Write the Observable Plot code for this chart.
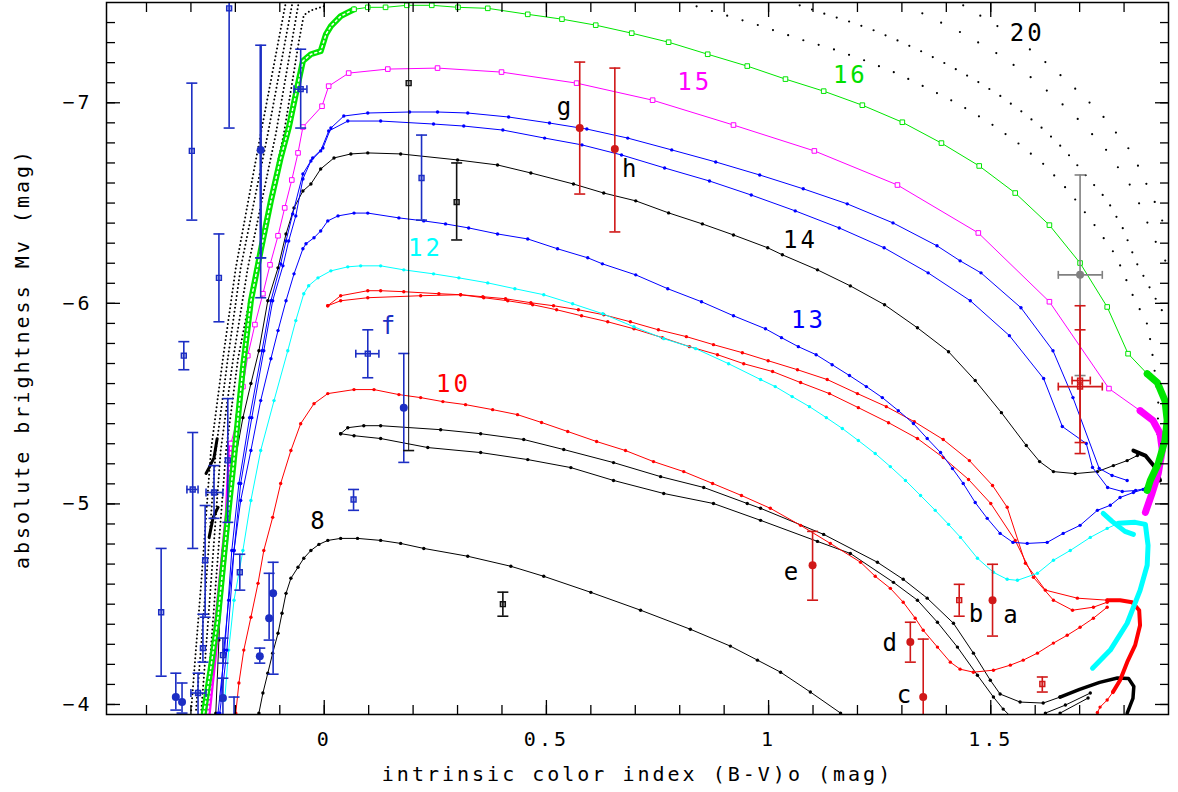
<!DOCTYPE html>
<html><head><meta charset="utf-8">
<script src="https://cdn.jsdelivr.net/npm/d3@7"></script>
<script src="https://cdn.jsdelivr.net/npm/@observablehq/plot@0.6"></script>
<style>
html,body{margin:0;padding:0;background:#fff;}
#chart svg text{letter-spacing:3px;}
#chart g[aria-label="tracklabels"] text{letter-spacing:0;}
</style></head><body><div id="chart"></div>
<script>
// ---------- tick values / labels ----------
const xMajor = [0, 0.5, 1, 1.5];
const xTickLabels = ["0", "0.5", "1", "1.5"];
const yMajor = [-7, -6, -5, -4];
const yTickLabels = ["\u22127", "\u22126", "\u22125", "\u22124"];
const xTitle = "intrinsic color index (B-V)o (mag)";
const yTitle = "absolute brightness Mv (mag)";

// ---------- evolutionary tracks [B-V, Mv] ----------
const track8 = [[-0.147,-3.957],[-0.138,-4.057],[-0.127,-4.156],[-0.116,-4.256],[-0.104,-4.355],[-0.095,-4.455],[-0.086,-4.554],[-0.075,-4.629],[-0.059,-4.684],[-0.046,-4.729],[-0.030,-4.768],[-0.012,-4.798],[0.008,-4.818],[0.037,-4.828],[0.075,-4.828],[0.127,-4.818],[0.172,-4.803],[0.224,-4.778],[0.323,-4.739],[0.420,-4.689],[0.494,-4.639],[0.600,-4.559],[0.712,-4.470],[0.824,-4.375],[0.914,-4.291],[0.975,-4.221],[1.027,-4.161],[1.094,-4.062],[1.162,-3.957]];
const track9a = [[0.037,-5.350],[0.053,-5.380],[0.089,-5.390],[0.127,-5.390],[0.262,-5.370],[0.352,-5.350],[0.449,-5.321],[0.539,-5.271],[0.651,-5.206],[0.757,-5.136],[0.854,-5.082],[0.952,-5.002],[0.982,-4.978],[1.124,-4.848],[1.245,-4.709],[1.303,-4.624],[1.357,-4.530],[1.416,-4.405],[1.461,-4.256],[1.499,-4.121],[1.521,-4.052],[1.566,-4.012],[1.618,-4.007],[1.656,-4.037]];
const track9b = [[0.037,-5.350],[0.067,-5.340],[0.127,-5.326],[0.233,-5.281],[0.352,-5.256],[0.458,-5.221],[0.555,-5.181],[0.651,-5.117],[0.764,-5.052],[0.876,-5.002],[0.982,-4.918],[1.110,-4.813],[1.184,-4.753],[1.281,-4.609],[1.335,-4.520],[1.380,-4.410],[1.425,-4.286],[1.470,-4.146],[1.506,-4.037],[1.528,-3.977],[1.544,-3.942]];
const track9Loop = [[1.656,-4.037],[1.700,-4.075],[1.745,-4.110],[1.785,-4.132],[1.810,-4.130],[1.822,-4.090],[1.820,-4.030],[1.807,-3.957]];
const track9ArrowA = [[1.623,-3.957],[1.668,-3.997],[1.724,-4.057]];
const track9ArrowB = [[1.656,-3.957],[1.719,-4.032]];
const track10 = [[-0.199,-3.957],[-0.192,-4.107],[-0.181,-4.271],[-0.165,-4.435],[-0.149,-4.604],[-0.136,-4.768],[-0.116,-4.933],[-0.098,-5.102],[-0.075,-5.266],[-0.053,-5.400],[-0.023,-5.500],[0.008,-5.550],[0.067,-5.570],[0.112,-5.570],[0.168,-5.545],[0.217,-5.530],[0.267,-5.510],[0.318,-5.495],[0.379,-5.470],[0.435,-5.445],[0.489,-5.406],[0.548,-5.361],[0.613,-5.311],[0.678,-5.266],[0.741,-5.211],[0.809,-5.161],[0.874,-5.102],[0.939,-5.042],[1.004,-4.978],[1.072,-4.893],[1.139,-4.803],[1.207,-4.709],[1.240,-4.639],[1.274,-4.579],[1.303,-4.510],[1.330,-4.430],[1.348,-4.370],[1.380,-4.286],[1.409,-4.211],[1.431,-4.176],[1.461,-4.161],[1.506,-4.171],[1.544,-4.196],[1.573,-4.221],[1.605,-4.256],[1.641,-4.306],[1.672,-4.345],[1.701,-4.385],[1.731,-4.430],[1.762,-4.485]];
const redPairA = [[0.008,-5.988],[0.037,-6.038],[0.098,-6.063],[0.127,-6.063],[0.179,-6.058],[0.258,-6.048],[0.307,-6.043],[0.357,-6.033],[0.408,-6.023],[0.465,-6.003],[0.516,-5.988],[0.572,-5.968],[0.629,-5.943],[0.689,-5.908],[0.752,-5.868],[0.815,-5.834],[0.876,-5.794],[0.941,-5.754],[0.999,-5.714],[1.065,-5.669],[1.132,-5.620],[1.200,-5.550],[1.265,-5.485],[1.328,-5.410],[1.393,-5.321],[1.452,-5.216],[1.504,-5.092],[1.537,-4.983],[1.578,-4.704],[1.623,-4.570],[1.695,-4.530],[1.762,-4.520]];
const redPairB = [[0.008,-5.988],[0.037,-6.013],[0.098,-6.028],[0.217,-6.038],[0.307,-6.043],[0.359,-6.028],[0.413,-6.013],[0.469,-5.993],[0.523,-5.968],[0.579,-5.938],[0.638,-5.908],[0.697,-5.873],[0.761,-5.829],[0.822,-5.784],[0.885,-5.744],[0.944,-5.699],[1.009,-5.660],[1.072,-5.605],[1.137,-5.550],[1.202,-5.480],[1.270,-5.405],[1.335,-5.326],[1.393,-5.231],[1.450,-5.122],[1.500,-5.002],[1.555,-4.818],[1.596,-4.634],[1.641,-4.520],[1.684,-4.470],[1.731,-4.485],[1.762,-4.510]];
const redThick = [[1.762,-4.520],[1.791,-4.520],[1.818,-4.510],[1.834,-4.470],[1.836,-4.395],[1.825,-4.296],[1.807,-4.211],[1.791,-4.121],[1.775,-4.062]];
const redTail = [[1.775,-4.062],[1.762,-4.022],[1.746,-3.987],[1.740,-3.960]];
const track12 = [[-0.224,-4.022],[-0.215,-4.271],[-0.203,-4.520],[-0.183,-4.768],[-0.165,-5.017],[-0.143,-5.266],[-0.113,-5.515],[-0.082,-5.764],[-0.064,-5.914],[-0.046,-6.048],[-0.035,-6.088],[-0.014,-6.127],[0.015,-6.162],[0.053,-6.182],[0.082,-6.187],[0.127,-6.187],[0.179,-6.167],[0.246,-6.147],[0.303,-6.127],[0.368,-6.102],[0.429,-6.073],[0.494,-6.043],[0.559,-5.998],[0.627,-5.948],[0.697,-5.883],[0.764,-5.824],[0.836,-5.774],[0.910,-5.699],[0.982,-5.620],[1.015,-5.585],[1.053,-5.535],[1.092,-5.485],[1.130,-5.430],[1.166,-5.376],[1.202,-5.316],[1.240,-5.251],[1.274,-5.186],[1.308,-5.117],[1.342,-5.042],[1.375,-4.968],[1.405,-4.898],[1.432,-4.833],[1.470,-4.729],[1.506,-4.659],[1.537,-4.624],[1.560,-4.619],[1.605,-4.654],[1.641,-4.719],[1.679,-4.768],[1.724,-4.833],[1.762,-4.878],[1.787,-4.903]];
const cyanThick = [[1.787,-4.903],[1.825,-4.908],[1.848,-4.898],[1.854,-4.793],[1.852,-4.694],[1.836,-4.569],[1.807,-4.405],[1.769,-4.271],[1.729,-4.181]];
const cyanThick2 = [[1.753,-4.953],[1.773,-4.913],[1.802,-4.863],[1.821,-4.848]];
const track13 = [[-0.233,-4.022],[-0.226,-4.271],[-0.215,-4.520],[-0.203,-4.768],[-0.188,-5.017],[-0.165,-5.266],[-0.143,-5.515],[-0.120,-5.724],[-0.104,-5.864],[-0.086,-6.013],[-0.068,-6.147],[-0.048,-6.272],[-0.041,-6.297],[-0.023,-6.327],[-0.008,-6.361],[0.008,-6.411],[0.031,-6.436],[0.067,-6.450],[0.098,-6.450],[0.168,-6.426],[0.224,-6.411],[0.273,-6.396],[0.325,-6.376],[0.390,-6.346],[0.458,-6.321],[0.525,-6.272],[0.593,-6.227],[0.626,-6.197],[0.701,-6.142],[0.773,-6.073],[0.849,-6.008],[0.921,-5.938],[0.993,-5.873],[1.029,-5.829],[1.067,-5.784],[1.107,-5.744],[1.143,-5.694],[1.182,-5.640],[1.220,-5.585],[1.256,-5.530],[1.292,-5.465],[1.326,-5.401],[1.357,-5.326],[1.387,-5.256],[1.414,-5.176],[1.438,-5.102],[1.465,-5.007],[1.492,-4.928],[1.521,-4.853],[1.550,-4.808],[1.582,-4.803],[1.627,-4.808],[1.663,-4.853],[1.701,-4.893],[1.740,-4.968],[1.769,-4.993],[1.791,-5.032],[1.821,-5.057],[1.843,-5.072]];
const track14 = [[-0.244,-3.957],[-0.237,-4.321],[-0.228,-4.768],[-0.210,-5.102],[-0.183,-5.430],[-0.165,-5.600],[-0.147,-5.764],[-0.127,-6.013],[-0.104,-6.177],[-0.086,-6.346],[-0.068,-6.476],[-0.048,-6.560],[-0.030,-6.595],[-0.008,-6.670],[0.022,-6.725],[0.060,-6.745],[0.098,-6.750],[0.172,-6.745],[0.300,-6.715],[0.390,-6.690],[0.465,-6.650],[0.561,-6.595],[0.629,-6.550],[0.701,-6.511],[0.775,-6.451],[0.851,-6.396],[0.921,-6.341],[0.998,-6.277],[1.031,-6.242],[1.110,-6.167],[1.184,-6.087],[1.261,-5.993],[1.335,-5.878],[1.405,-5.759],[1.465,-5.615],[1.524,-5.455],[1.580,-5.291],[1.610,-5.211],[1.641,-5.161],[1.690,-5.151],[1.740,-5.161],[1.776,-5.191],[1.807,-5.216],[1.830,-5.241]];
const track14Thick = [[1.821,-5.266],[1.848,-5.241],[1.870,-5.182],[1.881,-5.117]];
const blueA = [[-0.239,-3.957],[-0.224,-4.271],[-0.208,-4.768],[-0.192,-5.102],[-0.168,-5.430],[-0.140,-5.764],[-0.120,-6.013],[-0.098,-6.197],[-0.086,-6.311],[-0.071,-6.446],[-0.048,-6.645],[-0.026,-6.725],[-0.003,-6.774],[0.015,-6.874],[0.044,-6.934],[0.098,-6.949],[0.192,-6.954],[0.255,-6.954],[0.323,-6.949],[0.415,-6.929],[0.507,-6.899],[0.591,-6.869],[0.683,-6.824],[0.782,-6.765],[0.881,-6.705],[0.980,-6.640],[1.078,-6.571],[1.177,-6.496],[1.280,-6.401],[1.379,-6.287],[1.431,-6.212],[1.478,-6.152],[1.568,-5.978],[1.640,-5.764],[1.685,-5.530],[1.744,-5.177],[1.773,-5.142],[1.807,-5.117]];
const blueB = [[-0.235,-3.957],[-0.219,-4.271],[-0.203,-4.768],[-0.188,-5.102],[-0.163,-5.430],[-0.136,-5.764],[-0.116,-6.013],[-0.093,-6.187],[-0.080,-6.311],[-0.064,-6.436],[-0.048,-6.620],[-0.030,-6.710],[-0.008,-6.760],[0.010,-6.859],[0.053,-6.909],[0.127,-6.909],[0.246,-6.894],[0.314,-6.884],[0.402,-6.864],[0.496,-6.824],[0.580,-6.790],[0.669,-6.740],[0.766,-6.675],[0.867,-6.610],[0.961,-6.540],[1.060,-6.461],[1.159,-6.376],[1.260,-6.277],[1.359,-6.152],[1.454,-6.013],[1.542,-5.839],[1.619,-5.625],[1.661,-5.386],[1.715,-5.301],[1.729,-5.182],[1.763,-5.082],[1.796,-5.062],[1.826,-5.067],[1.848,-5.077]];
const mag15Thick = [[-0.262,-3.957],[-0.250,-4.206],[-0.239,-4.455],[-0.228,-4.704],[-0.217,-4.953],[-0.210,-5.301]];
const track15 = [[-0.210,-5.301],[-0.194,-5.435],[-0.183,-5.585],[-0.172,-5.739],[-0.156,-5.894],[-0.138,-6.048],[-0.122,-6.192],[-0.104,-6.337],[-0.089,-6.476],[-0.073,-6.615],[-0.059,-6.750],[-0.048,-6.879],[-0.005,-6.983],[0.010,-7.083],[0.055,-7.148],[0.143,-7.168],[0.255,-7.173],[0.399,-7.153],[0.568,-7.098],[0.739,-7.013],[0.921,-6.889],[1.103,-6.760],[1.290,-6.590],[1.472,-6.351],[1.632,-6.008],[1.766,-5.575],[1.836,-5.465]];
const mag15End = [[1.836,-5.465],[1.865,-5.416],[1.881,-5.351],[1.886,-5.267],[1.877,-5.152],[1.863,-5.053],[1.848,-4.958]];
const green16Dense = [[-0.271,-3.957],[-0.255,-4.186],[-0.239,-4.435],[-0.228,-4.684],[-0.217,-4.933],[-0.205,-5.182],[-0.194,-5.431],[-0.183,-5.679],[-0.165,-6.013],[-0.143,-6.262],[-0.120,-6.511],[-0.098,-6.725],[-0.080,-6.874],[-0.064,-7.043],[-0.048,-7.208],[-0.030,-7.242],[-0.008,-7.257],[0.004,-7.342],[0.015,-7.382],[0.037,-7.432],[0.067,-7.466]];
const track16 = [[0.067,-7.466],[0.098,-7.476],[0.138,-7.476],[0.186,-7.486],[0.242,-7.486],[0.301,-7.476],[0.368,-7.471],[0.458,-7.441],[0.535,-7.417],[0.611,-7.387],[0.692,-7.347],[0.775,-7.302],[0.863,-7.242],[0.952,-7.183],[1.038,-7.118],[1.124,-7.058],[1.211,-6.988],[1.301,-6.903],[1.389,-6.799],[1.474,-6.685],[1.555,-6.550],[1.632,-6.390],[1.701,-6.201],[1.762,-5.982],[1.809,-5.749],[1.852,-5.649]];
const green16End = [[1.852,-5.649],[1.875,-5.605],[1.892,-5.515],[1.897,-5.416],[1.892,-5.316],[1.877,-5.201],[1.859,-5.117],[1.852,-5.067]];
const wiggleA = [[-0.266,-5.152],[-0.259,-5.181],[-0.248,-5.231],[-0.241,-5.325]];
const wiggleB = [[-0.259,-4.833],[-0.250,-4.933],[-0.239,-4.983]];
// dotted tracks (20 Msun and others)
const dotL1 = [[-0.086,-7.506],[-0.143,-6.844],[-0.199,-6.177],[-0.228,-5.724],[-0.255,-5.266],[-0.277,-4.604],[-0.300,-3.957]];
const dotL2 = [[-0.071,-7.506],[-0.127,-6.844],[-0.188,-6.177],[-0.217,-5.724],[-0.244,-5.266],[-0.266,-4.604],[-0.289,-3.957]];
const dotL3 = [[-0.057,-7.506],[-0.109,-6.844],[-0.172,-6.177],[-0.205,-5.724],[-0.233,-5.266],[-0.255,-4.604],[-0.277,-3.957]];
const dotL4 = [[-0.001,-7.481],[-0.030,-7.461],[-0.046,-7.437],[-0.057,-7.307],[-0.091,-6.844],[-0.154,-6.177],[-0.194,-5.724],[-0.221,-5.266],[-0.244,-4.604],[-0.266,-3.957]];
const dotR1 = [[0.838,-7.481],[0.910,-7.432],[0.977,-7.387],[1.078,-7.312],[1.146,-7.267],[1.215,-7.212],[1.287,-7.148],[1.357,-7.073],[1.427,-6.994],[1.495,-6.904],[1.558,-6.805],[1.621,-6.690],[1.677,-6.556],[1.735,-6.386],[1.782,-6.237],[1.821,-6.033],[1.854,-5.888],[1.866,-5.714],[1.877,-5.515],[1.875,-5.291]];
const dotR2 = [[1.070,-7.486],[1.123,-7.446],[1.179,-7.407],[1.236,-7.362],[1.294,-7.307],[1.353,-7.247],[1.409,-7.183],[1.465,-7.113],[1.519,-7.038],[1.571,-6.954],[1.621,-6.864],[1.668,-6.760],[1.713,-6.640],[1.762,-6.515],[1.798,-6.371],[1.827,-6.206],[1.859,-6.073],[1.888,-5.953]];
const dotR3 = [[1.346,-7.446],[1.436,-7.347],[1.521,-7.237],[1.602,-7.108],[1.681,-6.954],[1.755,-6.780],[1.821,-6.565],[1.870,-6.312],[1.895,-6.203]];
const dotR4 = [[1.438,-7.486],[1.519,-7.377],[1.600,-7.247],[1.675,-7.103],[1.749,-6.943],[1.818,-6.750],[1.868,-6.511],[1.895,-6.362]];

// ---------- observed stars with error bars ----------
const bluePts = [
 {x:-0.367,y:-4.460,lo:-4.778,hi:-4.141,s:"s"},
 {x:-0.298,y:-6.760,lo:-7.098,hi:-6.415,s:"s"},
 {x:-0.214,y:-7.471,lo:-7.600,hi:-6.874,s:"s"},
 {x:-0.143,y:-6.765,lo:-7.287,hi:-6.227,s:"o",w:2.5},
 {x:-0.143,y:-6.127,lo:-6.227,hi:-6.028,s:"none"},
 {x:-0.053,y:-7.068,lo:-7.267,hi:-6.874,xlo:-0.068,xhi:-0.039,s:"s"},
 {x:-0.237,y:-6.127,lo:-6.346,hi:-5.908,s:"s"},
 {x:-0.316,y:-5.739,lo:-5.809,hi:-5.669,s:"s"},
 {x:-0.296,y:-5.072,lo:-5.356,hi:-4.778,xlo:-0.309,xhi:-0.284,s:"s"},
 {x:-0.217,y:-5.217,lo:-5.525,hi:-4.908,s:"s"},
 {x:-0.248,y:-5.057,lo:-5.191,hi:-4.928,xlo:-0.266,xhi:-0.228,s:"s"},
 {x:-0.268,y:-4.719,lo:-4.992,hi:-4.435,s:"s"},
 {x:-0.190,y:-4.659,lo:-4.749,hi:-4.570,s:"s"},
 {x:-0.115,y:-4.555,lo:-4.709,hi:-4.151,s:"o"},
 {x:-0.124,y:-4.430,lo:-4.654,hi:-4.321,s:"o"},
 {x:-0.145,y:-4.241,lo:-4.281,hi:-4.206,s:"o"},
 {x:-0.273,y:-4.281,lo:-4.450,hi:-4.211,s:"s"},
 {x:-0.334,y:-4.037,lo:-4.156,hi:-3.972,s:"o"},
 {x:-0.320,y:-4.012,lo:-4.107,hi:-3.957,s:"o"},
 {x:-0.284,y:-4.057,lo:-4.156,hi:-3.900,xlo:-0.300,xhi:-0.266,s:"s"},
 {x:-0.228,y:-4.032,lo:-4.131,hi:-3.900,s:"o"},
 {x:-0.228,y:-4.246,lo:-4.331,hi:-4.206,s:"s"},
 {x:-0.203,y:-3.900,lo:-4.037,hi:-3.800,s:"s"},
 {x:0.066,y:-5.022,lo:-5.072,hi:-4.968,s:"s"},
 {x:0.098,y:-5.749,lo:-5.868,hi:-5.629,xlo:0.071,xhi:0.123,s:"s"},
 {x:0.179,y:-5.480,lo:-5.750,hi:-5.207,s:"o"},
 {x:0.219,y:-6.625,lo:-6.839,hi:-6.415,s:"s"}
];
const blackPts = [
 {x:0.298,y:-6.505,lo:-6.700,hi:-6.316,s:"s"},
 {x:0.190,y:-7.098,lo:-7.600,hi:-5.266,s:"s",w:1},
 {x:0.402,y:-4.500,lo:-4.560,hi:-4.440,s:"s"}
];
const redPts = [
 {x:0.575,y:-6.874,lo:-7.203,hi:-6.545,s:"o"},
 {x:0.654,y:-6.769,lo:-7.173,hi:-6.356,s:"o"},
 {x:1.099,y:-4.694,lo:-4.863,hi:-4.520,s:"o"},
 {x:1.429,y:-4.520,lo:-4.599,hi:-4.440,s:"s"},
 {x:1.504,y:-4.520,lo:-4.699,hi:-4.341,s:"o"},
 {x:1.319,y:-4.311,lo:-4.410,hi:-4.211,s:"o"},
 {x:1.348,y:-4.037,lo:-4.326,hi:-3.850,s:"o"},
 {x:1.616,y:-4.102,lo:-4.137,hi:-4.062,s:"s"},
 {x:1.701,y:-5.615,lo:-5.988,hi:-5.306,xlo:1.683,xhi:1.724,s:"s"},
 {x:1.701,y:-5.585,lo:-5.868,hi:-5.251,xlo:1.652,xhi:1.751,s:"s"}
];
const greyPts = [
 {x:1.701,y:-6.142,lo:-6.640,hi:-5.640,xlo:1.652,xhi:1.751,s:"o"}
];

// ---------- labels ----------
const trackLabels = [
 {t:"8", x:-0.012, y:-4.915, c:"black"},
 {t:"10", x:0.291, y:-5.595, c:"#ff0000"},
 {t:"12", x:0.228, y:-6.272, c:"#00ffff"},
 {t:"13", x:1.090, y:-5.913, c:"#0000ff"},
 {t:"14", x:1.072, y:-6.316, c:"black"},
 {t:"15", x:0.834, y:-7.103, c:"#ff00ff"},
 {t:"16", x:1.184, y:-7.138, c:"#00e000"},
 {t:"20", x:1.582, y:-7.347, c:"black"},
 {t:"g", x:0.543, y:-6.975, c:"black"},
 {t:"h", x:0.690, y:-6.670, c:"black"},
 {t:"f", x:0.147, y:-5.883, c:"#1c2ec4"},
 {t:"e", x:1.054, y:-4.659, c:"black"},
 {t:"d", x:1.276, y:-4.306, c:"black"},
 {t:"c", x:1.308, y:-4.047, c:"black"},
 {t:"b", x:1.470, y:-4.450, c:"black"},
 {t:"a", x:1.548, y:-4.445, c:"black"}
];

// ---------- helpers ----------
const X = d => d[0], Y = d => d[1];
const GREEN = "#00e600", MAG = "#ff00ff", BLUE = "#0000ff", CYAN = "#00ffff", RED = "#ff0000";
const capH = {draw(ctx, size){const w = Math.sqrt(size/Math.PI); ctx.moveTo(-w,0); ctx.lineTo(w,0);}};
const capV = {draw(ctx, size){const w = Math.sqrt(size/Math.PI); ctx.moveTo(0,-w); ctx.lineTo(0,w);}};

function trk(data, color, {w=1, r=1.7, square=false, dots=true} = {}) {
  const m = [Plot.line(data, {x:X, y:Y, stroke:color, strokeWidth:w, clip:true})];
  if (dots) {
    if (square) m.push(Plot.dot(data, {x:X, y:Y, symbol:"square", r:2.6, stroke:color, fill:"white", strokeWidth:1, clip:true}));
    else m.push(Plot.dot(data, {x:X, y:Y, r, fill:color, clip:true}));
  }
  return m;
}
function thick(data, color, w) {
  return Plot.line(data, {x:X, y:Y, stroke:color, strokeWidth:w, strokeLinecap:"round", strokeLinejoin:"round", clip:true});
}
function dotted(data, gap, w=2) {
  return Plot.line(data, {x:X, y:Y, stroke:"black", strokeWidth:w, strokeDasharray:`0,${gap}`, strokeLinecap:"round", clip:true});
}
function errs(pts, color) {
  const xe = pts.filter(d => d.xlo != null);
  return [
    Plot.ruleX(pts, {x:"x", y1:"lo", y2:"hi", stroke:color, strokeWidth:d => d.w || 1.6, clip:true}),
    Plot.dot(pts, {x:"x", y:"lo", symbol:capH, r:5.5, stroke:color, strokeWidth:1.6, fill:"none", clip:true}),
    Plot.dot(pts, {x:"x", y:"hi", symbol:capH, r:5.5, stroke:color, strokeWidth:1.6, fill:"none", clip:true}),
    Plot.ruleY(xe, {y:"y", x1:"xlo", x2:"xhi", stroke:color, strokeWidth:1.6, clip:true}),
    Plot.dot(xe, {x:"xlo", y:"y", symbol:capV, r:4, stroke:color, strokeWidth:1.6, fill:"none", clip:true}),
    Plot.dot(xe, {x:"xhi", y:"y", symbol:capV, r:4, stroke:color, strokeWidth:1.6, fill:"none", clip:true}),
    Plot.dot(pts.filter(d => d.s === "s"), {x:"x", y:"y", symbol:"square", r:2.8, stroke:color, fill:color, fillOpacity:0.35, strokeWidth:1.4, clip:true}),
    Plot.dot(pts.filter(d => d.s === "o"), {x:"x", y:"y", r:4, fill:color, clip:true})
  ];
}
const noText = () => "";
const xMinor = d3.range(-4, 19).map(i => i / 10);
const yMinor = d3.range(-74, -39).map(i => i / 10);

const chart = Plot.plot({
  width: 1178, height: 792,
  marginLeft: 106, marginRight: 10, marginTop: 2, marginBottom: 78,
  x: {domain: [-0.49, 1.9]},
  y: {domain: [-3.95, -7.5]},
  style: {fontFamily: "'DejaVu Sans Mono', monospace", fontSize: "20px", color: "black", background: "white"},
  marks: [
    dotted(dotL1, 4), dotted(dotL2, 4), dotted(dotL3, 4), dotted(dotL4, 4),
    dotted(dotR1, 16, 2.2), dotted(dotR2, 13, 2.2), dotted(dotR3, 21, 2.2), dotted(dotR4, 20, 2.2),
    ...trk(track8, "black"),
    ...trk(track9a, "black"), ...trk(track9b, "black"),
    thick(track9Loop, "black", 3.5),
    ...trk(track9ArrowA, "black"), ...trk(track9ArrowB, "black"),
    ...trk(track10, RED),
    ...trk(redPairA, RED), ...trk(redPairB, RED),
    thick(redThick, RED, 4), ...trk(redTail, RED),
    ...trk(track12, CYAN),
    thick(cyanThick, CYAN, 5), thick(cyanThick2, CYAN, 5),
    ...trk(track13, BLUE),
    ...trk(track14, "black"), thick(track14Thick, "black", 4),
    ...trk(blueA, BLUE), ...trk(blueB, BLUE),
    thick(wiggleA, "black", 3), thick(wiggleB, "black", 3),
    thick(mag15Thick, MAG, 6),
    Plot.line(mag15Thick, {x:X, y:Y, stroke:"white", strokeWidth:1.5, strokeDasharray:"2,3", clip:true}),
    ...trk(track15, MAG, {square:true}),
    thick(mag15End, MAG, 7),
    thick(green16Dense, GREEN, 6),
    Plot.line(green16Dense, {x:X, y:Y, stroke:"white", strokeWidth:1.5, strokeDasharray:"2,3", clip:true}),
    ...trk(track16, GREEN, {square:true}),
    thick(green16End, GREEN, 7),
    ...errs(greyPts, "#808080"),
    ...errs(bluePts, "#1c2ec4"),
    ...errs(blackPts, "#111111"),
    ...errs(redPts, "#d01818"),
    Plot.text(trackLabels, {x:"x", y:"y", text:"t", fill:"c", fontSize:24, ariaLabel:"tracklabels"}),
    Plot.frame({stroke:"black", strokeWidth:1.5}),
    Plot.axisX(xMinor, {anchor:"bottom", tickSize:9, dy:-9, tickFormat:noText, label:null, strokeWidth:1.3}),
    Plot.axisX(xMajor, {anchor:"bottom", tickSize:14, dy:-14, tickFormat:noText, label:null, strokeWidth:1.3}),
    Plot.axisX(xMinor, {anchor:"top", tickSize:9, dy:9, tickFormat:noText, label:null, strokeWidth:1.3}),
    Plot.axisX(xMajor, {anchor:"top", tickSize:14, dy:14, tickFormat:noText, label:null, strokeWidth:1.3}),
    Plot.axisY(yMinor, {anchor:"left", tickSize:9, dx:9, tickFormat:noText, label:null, strokeWidth:1.3}),
    Plot.axisY(yMajor, {anchor:"left", tickSize:14, dx:14, tickFormat:noText, label:null, strokeWidth:1.3}),
    Plot.axisY(yMinor, {anchor:"right", tickSize:9, dx:-9, tickFormat:noText, label:null, strokeWidth:1.3}),
    Plot.axisY(yMajor, {anchor:"right", tickSize:14, dx:-14, tickFormat:noText, label:null, strokeWidth:1.3}),
    Plot.axisX(xMajor, {anchor:"bottom", tickSize:0, tickPadding:17, tickFormat:(d, i) => xTickLabels[i], label:null}),
    Plot.axisY(yMajor, {anchor:"left", tickSize:0, tickPadding:14, tickFormat:(d, i) => yTickLabels[i], label:null}),
    Plot.text([xTitle], {frameAnchor:"bottom", dy:66, text:d => d, fontSize:20, textAnchor:"middle"}),
    Plot.text([yTitle], {frameAnchor:"left", dx:-84, rotate:-90, text:d => d, fontSize:20, textAnchor:"middle", lineAnchor:"middle"})
  ]
});
document.getElementById("chart").appendChild(chart);
</script></body></html>
